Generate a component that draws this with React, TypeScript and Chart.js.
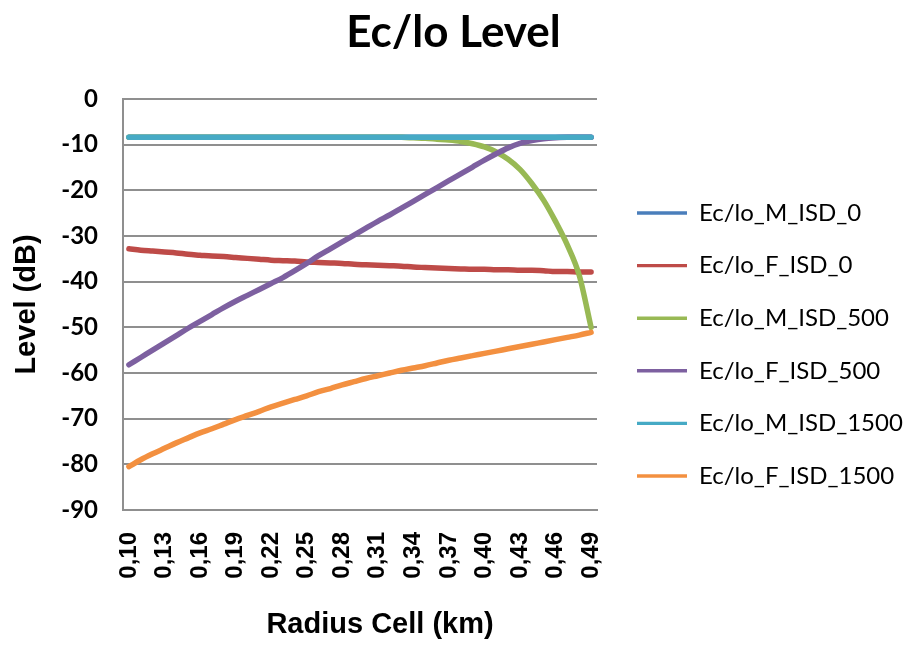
import { useEffect, useRef } from "react";
import { Chart, registerables } from "chart.js";

Chart.register(...registerables);

// Cell radius categories (km)
const radius = [
  "0,10", "0,11", "0,12", "0,13", "0,14", "0,15", "0,16", "0,17", "0,18", "0,19",
  "0,20", "0,21", "0,22", "0,23", "0,24", "0,25", "0,26", "0,27", "0,28", "0,29",
  "0,30", "0,31", "0,32", "0,33", "0,34", "0,35", "0,36", "0,37", "0,38", "0,39",
  "0,40", "0,41", "0,42", "0,43", "0,44", "0,45", "0,46", "0,47", "0,48", "0,49",
];

// Ec/Io levels in dB, one list per scenario
const mIsd0 = [
  -8.4, -8.4, -8.4, -8.4, -8.4, -8.4, -8.4, -8.4, -8.4, -8.4,
  -8.4, -8.4, -8.4, -8.4, -8.4, -8.4, -8.4, -8.4, -8.4, -8.4,
  -8.4, -8.4, -8.4, -8.4, -8.4, -8.4, -8.4, -8.4, -8.4, -8.4,
  -8.4, -8.4, -8.4, -8.4, -8.4, -8.4, -8.4, -8.4, -8.4, -8.4,
];
const fIsd0 = [
  -32.8, -33.1, -33.3, -33.5, -33.7, -34.0, -34.2, -34.4, -34.5, -34.7,
  -34.9, -35.1, -35.3, -35.4, -35.5, -35.7, -35.8, -35.9, -36.0, -36.2,
  -36.3, -36.4, -36.5, -36.6, -36.8, -36.9, -37.0, -37.1, -37.2, -37.3,
  -37.3, -37.4, -37.4, -37.5, -37.5, -37.6, -37.8, -37.8, -37.9, -37.9,
];
const mIsd500 = [
  -8.4, -8.4, -8.4, -8.4, -8.4, -8.4, -8.4, -8.4, -8.4, -8.4,
  -8.4, -8.4, -8.4, -8.4, -8.4, -8.4, -8.4, -8.4, -8.4, -8.4,
  -8.4, -8.4, -8.4, -8.4, -8.5, -8.6, -8.8, -9.0, -9.3, -9.8,
  -10.5, -11.6, -13.2, -15.4, -18.5, -22.2, -26.8, -32.0, -38.6, -50.0,
];
const fIsd500 = [
  -58.2, -56.6, -55.0, -53.4, -51.8, -50.2, -48.7, -47.2, -45.7, -44.3,
  -43.0, -41.7, -40.4, -39.1, -37.6, -36.0, -34.3, -32.8, -31.3, -29.8,
  -28.3, -26.8, -25.4, -23.9, -22.4, -20.9, -19.4, -17.9, -16.4, -14.9,
  -13.4, -12.0, -10.7, -9.7, -9.1, -8.7, -8.5, -8.4, -8.4, -8.4,
];
const mIsd1500 = [
  -8.4, -8.4, -8.4, -8.4, -8.4, -8.4, -8.4, -8.4, -8.4, -8.4,
  -8.4, -8.4, -8.4, -8.4, -8.4, -8.4, -8.4, -8.4, -8.4, -8.4,
  -8.4, -8.4, -8.4, -8.4, -8.4, -8.4, -8.4, -8.4, -8.4, -8.4,
  -8.4, -8.4, -8.4, -8.4, -8.4, -8.4, -8.4, -8.4, -8.4, -8.4,
];
const fIsd1500 = [
  -80.5, -79.0, -77.7, -76.5, -75.3, -74.2, -73.1, -72.2, -71.2, -70.2,
  -69.3, -68.4, -67.4, -66.6, -65.8, -65.0, -64.1, -63.4, -62.6, -61.9,
  -61.2, -60.6, -60.0, -59.4, -58.9, -58.4, -57.8, -57.2, -56.7, -56.2,
  -55.7, -55.2, -54.7, -54.2, -53.7, -53.2, -52.7, -52.2, -51.7, -51.1,
];

const seriesNames = [
  "Ec/lo_M_ISD_0",
  "Ec/lo_F_ISD_0",
  "Ec/lo_M_ISD_500",
  "Ec/lo_F_ISD_500",
  "Ec/lo_M_ISD_1500",
  "Ec/lo_F_ISD_1500",
];
const seriesData = [mIsd0, fIsd0, mIsd500, fIsd500, mIsd1500, fIsd1500];
const seriesColors = ["#4A7EBB", "#BE4B48", "#98B954", "#7D60A0", "#46AAC5", "#F39040"];

const yTickLabelsStep = 10;
const yMin = -90;
const yMax = 0;

const GRID = "#8f8f8f";
const SANS = "'Liberation Sans', Arial, sans-serif";
const HUMANIST = "Lato, 'Open Sans', sans-serif";

// Draws the x axis caption below the rotated category labels
const xCaptionPlugin = {
  id: "xCaption",
  afterDraw(chart: any) {
    const { ctx, chartArea } = chart;
    ctx.save();
    ctx.font = `bold 29px ${SANS}`;
    ctx.fillStyle = "#000";
    ctx.textAlign = "center";
    ctx.textBaseline = "middle";
    ctx.fillText("Radius Cell (km)", (chartArea.left + chartArea.right) / 2 + 20, chartArea.bottom + 115);
    ctx.restore();
  },
};

export default function App() {
  const canvasRef = useRef<HTMLCanvasElement | null>(null);

  useEffect(() => {
    if (!canvasRef.current) return;
    const datasets = seriesNames.map((name, i) => ({
      label: name,
      data: seriesData[i],
      borderColor: seriesColors[i],
      backgroundColor: seriesColors[i],
      borderWidth: 5.5,
      pointRadius: 0,
      pointHoverRadius: 0,
      borderCapStyle: "round" as const,
      borderJoinStyle: "round" as const,
      cubicInterpolationMode: "monotone" as const,
      fill: false,
      order: seriesNames.length - i,
    }));

    const chart = new Chart(canvasRef.current, {
      type: "line",
      data: { labels: radius, datasets },
      plugins: [xCaptionPlugin],
      options: {
        responsive: false,
        animation: false,
        devicePixelRatio: 1,
        layout: { padding: { top: 20, left: 0, right: 0, bottom: 0 } },
        plugins: {
          tooltip: { enabled: false },
          title: {
            display: true,
            text: "Ec/lo Level",
            color: "#000",
            font: { family: HUMANIST, size: 44, weight: "bold", lineHeight: 0.6 },
            padding: { top: 0, bottom: 52.6 },
          },
          legend: {
            position: "right",
            maxWidth: 298.6,
            labels: {
              color: "#000",
              font: { family: HUMANIST, size: 24 },
              padding: 28.6,
              usePointStyle: true,
              pointStyle: "line",
              pointStyleWidth: 50,
              sort: (a: any, b: any) => a.datasetIndex - b.datasetIndex,
              generateLabels: (c: any) =>
                Chart.defaults.plugins.legend.labels
                  .generateLabels(c)
                  .map((l: any) => ({ ...l, lineWidth: 3.4 })),
            },
          },
        },
        scales: {
          x: {
            type: "category",
            offset: true,
            grid: { display: false, drawTicks: false },
            border: { display: true, color: GRID, width: 2 },
            ticks: {
              autoSkip: false,
              minRotation: 90,
              maxRotation: 90,
              padding: 22,
              color: "#000",
              font: { family: SANS, size: 24, weight: "bold" },
              callback: (_v: any, idx: number) => (idx % 3 === 0 ? radius[idx] : ""),
            },
            afterFit: (s: any) => {
              s.height = 159;
            },
          },
          y: {
            type: "linear",
            min: yMin,
            max: yMax,
            grid: { color: GRID, lineWidth: 2, drawTicks: false },
            border: { display: true, color: GRID, width: 2 },
            ticks: {
              stepSize: yTickLabelsStep,
              padding: 25,
              color: "#000",
              font: { family: HUMANIST, size: 24, weight: "bold" },
            },
            title: {
              display: true,
              text: "Level (dB)",
              color: "#000",
              font: { family: SANS, size: 29, weight: "bold" },
              padding: { top: 10, bottom: 0 },
            },
            afterFit: (s: any) => {
              s.width = 123;
            },
          },
          gap: {
            type: "linear",
            position: "right",
            display: true,
            grid: { display: false, drawTicks: false },
            border: { display: false },
            ticks: { display: false },
            afterFit: (s: any) => {
              s.width = 11.4;
            },
          },
        },
      },
    });
    return () => chart.destroy();
  }, []);

  return (
    <div style={{ position: "absolute", left: 0, top: 0, width: 907, height: 669, background: "#fff" }}>
      <canvas ref={canvasRef} width={907} height={669} style={{ display: "block" }} />
    </div>
  );
}
